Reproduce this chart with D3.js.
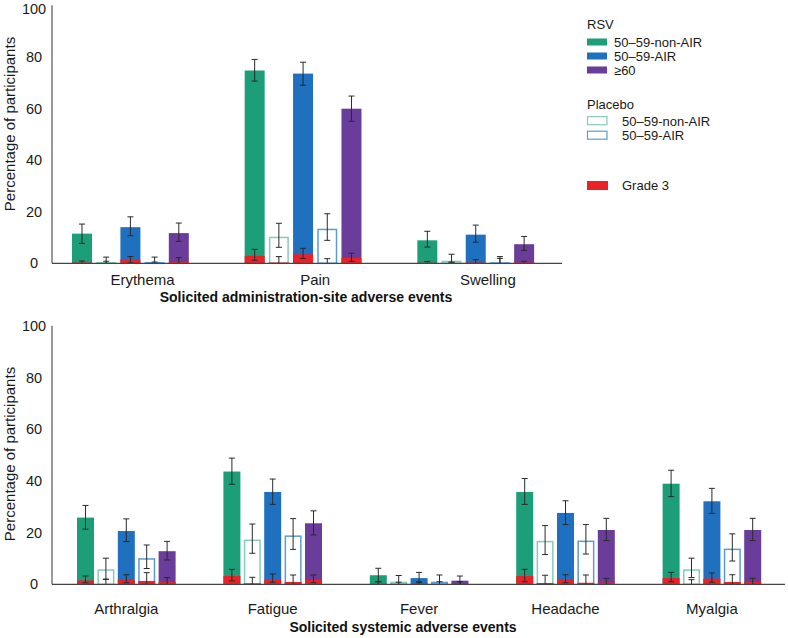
<!DOCTYPE html>
<html>
<head>
<meta charset="utf-8">
<script src="https://cdn.jsdelivr.net/npm/d3@7"></script>
<style>
  html, body { margin: 0; padding: 0; background: #fff; }
  svg { display: block; font-family: "Liberation Sans", Arial, sans-serif; }
</style>
</head>
<body>
<svg id="chart" width="788" height="638"></svg>
<script>
// ---------------- DATA ----------------
const yTicks = [0, 20, 40, 60, 80, 100];
const yLabel = "Percentage of participants";

const siteCategories = ["Erythema", "Pain", "Swelling"];
const siteTitle = "Solicited administration-site adverse events";
// each entry: [value, lower CI, upper CI]
const siteRsvNonAir      = [[11.5, 7.7, 15.2], [74.7, 70.6, 79.0], [8.9, 6.3, 12.4]];
const siteRsvNonAirG3    = [[0.3, 0, 0.9], [2.9, 1.2, 5.4], [0.2, 0, 0.7]];
const sitePboNonAir      = [[0.5, 0, 2.4], [10.3, 6.2, 15.5], [1.0, 0.2, 3.5]];
const sitePboNonAirG3    = [[0, 0, 0.8], [0.3, 0, 2.6], [0, 0, 0.5]];
const siteRsvAir         = [[14.0, 10.7, 18.0], [73.5, 69.0, 77.9], [11.1, 8.2, 14.8]];
const siteRsvAirG3       = [[1.4, 0.2, 2.6], [3.5, 1.9, 5.8], [0.3, 0, 1.4]];
const sitePboAir         = [[0.5, 0, 2.4], [13.4, 8.9, 19.2], [0.4, 0, 2.6]];
const sitePboAirG3       = [[0, 0, 0.5], [0, 0, 1.8], [0, 0, 1.9]];
const siteRsv60          = [[11.7, 8.5, 15.6], [59.9, 55.0, 64.8], [7.4, 5.0, 10.4]];
const siteRsv60G3        = [[0.5, 0, 2.2], [2.1, 0.8, 3.9], [0.3, 0, 0.8]];

const sysCategories = ["Arthralgia", "Fatigue", "Fever", "Headache", "Myalgia"];
const sysTitle = "Solicited systemic adverse events";
const sysRsvNonAir   = [[25.8, 21.3, 30.5], [43.6, 38.7, 48.8], [3.5, 1.0, 6.2], [35.7, 30.9, 40.9], [38.9, 33.9, 44.1]];
const sysRsvNonAirG3 = [[1.5, 0.6, 3.2], [3.2, 1.3, 5.8], [0.2, 0, 1.0], [3.2, 1.0, 5.8], [2.4, 1.0, 4.6]];
const sysPboNonAir   = [[5.8, 1.9, 10.1], [17.3, 12.0, 23.3], [1.0, 0, 3.4], [16.8, 11.5, 22.7], [5.8, 2.6, 10.1]];
const sysPboNonAirG3 = [[0, 0, 2.0], [0.4, 0, 2.7], [0.2, 0, 0.8], [0.5, 0, 3.5], [0, 0, 1.8]];
const sysRsvAir      = [[20.6, 16.5, 25.3], [35.7, 30.9, 40.7], [2.4, 0.6, 4.6], [27.6, 23.1, 32.3], [32.1, 27.4, 37.1]];
const sysRsvAirG3    = [[1.7, 0.6, 3.7], [1.8, 0.8, 4.0], [0.3, 0, 1.0], [1.8, 0.6, 3.7], [2.2, 0.8, 4.4]];
const sysPboAir      = [[10.1, 6.1, 15.2], [18.9, 13.5, 25.4], [1.0, 0, 3.6], [16.9, 11.7, 23.1], [13.8, 9.0, 19.5]];
const sysPboAirG3    = [[1.3, 0, 4.5], [0.9, 0, 3.6], [0.2, 0, 1.0], [0.6, 0, 3.6], [0.9, 0, 3.7]];
const sysRsv60       = [[12.8, 9.4, 16.6], [23.6, 19.1, 28.4], [1.4, 0, 3.2], [21.0, 16.9, 25.5], [21.0, 16.9, 25.5]];
const sysRsv60G3     = [[0.9, 0, 2.6], [1.7, 0.6, 3.6], [0.3, 0, 1.0], [0.7, 0, 2.3], [0.9, 0, 2.3]];

const seriesKeys   = ["rsvNonAir", "pboNonAir", "rsvAir", "pboAir", "rsv60"];
const legendRsv    = ["50–59-non-AIR", "50–59-AIR", "≥60"];
const legendPbo    = ["50–59-non-AIR", "50–59-AIR"];
const legendGrade3 = "Grade 3";

// ---------------- STYLE ----------------
const colors = {
  rsvNonAir: "#1c9e78", rsvAir: "#1f70be", rsv60: "#6a3d9a",
  pboNonAir: "#86cbbb", pboAir: "#5b9bd2", grade3: "#ea2228"
};
const isPlacebo = k => k.startsWith("pbo");

const svg = d3.select("#chart");

function panel(opts) {
  const { cats, series, yRange, xRange, slots, slotRange, slotPad, axisEnd, labelY, title, titleX, titleY, yTitleY, topLabelShift } = opts;
  const y = d3.scaleLinear().domain([0, 100]).range(yRange);
  const x0 = d3.scaleBand().domain(cats).range(xRange).paddingInner(0).paddingOuter(0);
  const x1 = d3.scaleBand().domain(slots).range(slotRange).paddingInner(slotPad).paddingOuter(0);
  const g = svg.append("g");

  // bars
  cats.forEach((c, ci) => {
    seriesKeys.forEach(k => {
      const any = series[k][ci], g3 = series[k + "G3"][ci];
      const bx = x0(c) + x1(k), bw = x1.bandwidth();
      if (isPlacebo(k)) {
        g.append("rect").attr("x", bx + 0.75).attr("width", bw - 1.5)
          .attr("y", y(any[0]) + 0.75).attr("height", Math.max(0, y(0) - y(any[0]) - 0.75))
          .attr("fill", "#fff").attr("stroke", colors[k]).attr("stroke-width", 1.5);
      } else {
        g.append("rect").attr("x", bx).attr("width", bw)
          .attr("y", y(any[0])).attr("height", y(0) - y(any[0]))
          .attr("fill", colors[k]);
      }
      if (g3[0] > 0) {
        g.append("rect").attr("x", bx).attr("width", bw)
          .attr("y", y(g3[0])).attr("height", y(0) - y(g3[0]))
          .attr("fill", colors.grade3);
      }
      // error bars
      const cx = bx + bw / 2;
      [any, g3].forEach(v => {
        if (v[2] <= 0) return;
        g.append("line").attr("x1", cx).attr("x2", cx).attr("y1", y(v[1])).attr("y2", y(v[2]))
          .attr("stroke", "#2a2a2a").attr("stroke-width", 1);
        [v[1], v[2]].forEach(val => {
          if (val <= 0) return;
          g.append("line").attr("x1", cx - 3).attr("x2", cx + 3).attr("y1", y(val)).attr("y2", y(val))
            .attr("stroke", "#2a2a2a").attr("stroke-width", 1);
        });
      });
    });
  });

  // y axis
  const ya = g.append("g").attr("transform", `translate(52,0)`)
    .call(d3.axisLeft(y).tickValues(yTicks).tickSize(0).tickPadding(0));
  ya.select(".domain").remove();
  ya.selectAll(".tick text").attr("x", -18).attr("text-anchor", "middle")
    .attr("font-size", 14.5).attr("font-family", "Liberation Sans, Arial, sans-serif").attr("fill", "#1a1a1a");
  if (topLabelShift) {
    ya.selectAll(".tick").filter(d => d === 100).select("text").attr("y", topLabelShift);
  }
  g.append("line").attr("x1", 52).attr("x2", 52).attr("y1", y(0)).attr("y2", y(100))
    .attr("stroke", "#777").attr("stroke-width", 1.5);

  // x axis
  const labelOffset = (slotRange[0] + slotRange[1]) / 2 - x0.bandwidth() / 2;
  const xa = g.append("g").attr("transform", `translate(0,${y(0)})`)
    .call(d3.axisBottom(x0).tickSize(0).tickPadding(0));
  xa.select(".domain").remove();
  xa.selectAll(".tick text").attr("x", labelOffset).attr("y", labelY).attr("dy", 0)
    .attr("font-size", 15).attr("font-family", "Liberation Sans, Arial, sans-serif").attr("fill", "#1a1a1a");
  g.append("line").attr("x1", 52).attr("x2", axisEnd).attr("y1", y(0)).attr("y2", y(0))
    .attr("stroke", "#444").attr("stroke-width", 1.2);

  // titles
  g.append("text").attr("x", titleX).attr("y", titleY).attr("text-anchor", "middle")
    .attr("font-size", 14).attr("font-weight", "bold").attr("fill", "#111").text(title);
  g.append("text").attr("transform", `translate(15,${yTitleY}) rotate(-90)`).attr("text-anchor", "middle")
    .attr("font-size", 15).attr("fill", "#1a1a1a").text(yLabel);
}

panel({
  cats: siteCategories,
  series: { rsvNonAir: siteRsvNonAir, rsvNonAirG3: siteRsvNonAirG3, pboNonAir: sitePboNonAir, pboNonAirG3: sitePboNonAirG3,
            rsvAir: siteRsvAir, rsvAirG3: siteRsvAirG3, pboAir: sitePboAir, pboAirG3: sitePboAirG3, rsv60: siteRsv60, rsv60G3: siteRsv60G3 },
  yRange: [263.3, 5.2], xRange: [44, 562], slots: [...seriesKeys, "empty"], slotRange: [28, 169], slotPad: 0.174,
  axisEnd: 562, labelY: 21.5, title: siteTitle, titleX: 306, titleY: 302, yTitleY: 124, topLabelShift: 3.6
});

panel({
  cats: sysCategories,
  series: { rsvNonAir: sysRsvNonAir, rsvNonAirG3: sysRsvNonAirG3, pboNonAir: sysPboNonAir, pboNonAirG3: sysPboNonAirG3,
            rsvAir: sysRsvAir, rsvAirG3: sysRsvAirG3, pboAir: sysPboAir, pboAirG3: sysPboAirG3, rsv60: sysRsv60, rsv60G3: sysRsv60G3 },
  yRange: [584.3, 325.7], xRange: [53, 785], slots: seriesKeys, slotRange: [24, 122.6], slotPad: 0.167,
  axisEnd: 785, labelY: 29.5, title: sysTitle, titleX: 403, titleY: 632, yTitleY: 454, topLabelShift: 0
});

// ---------------- LEGEND ----------------
const lg = svg.append("g").attr("font-size", 13).attr("fill", "#1a1a1a");
lg.append("text").attr("x", 587).attr("y", 29.3).text("RSV");
const rsvKeys = ["rsvNonAir", "rsvAir", "rsv60"];
legendRsv.forEach((t, i) => {
  const cy = 42 + i * 14;
  lg.append("rect").attr("x", 587).attr("y", cy - 3.5).attr("width", 20).attr("height", 7).attr("fill", colors[rsvKeys[i]]);
  lg.append("text").attr("x", 614).attr("y", cy + 4.5).text(t);
});
lg.append("text").attr("x", 587).attr("y", 108.5).text("Placebo");
const pboKeys = ["pboNonAir", "pboAir"];
legendPbo.forEach((t, i) => {
  const cy = 120.7 + i * 14.5;
  lg.append("rect").attr("x", 587.5).attr("y", cy - 4).attr("width", 19.5).attr("height", 8)
    .attr("fill", "#fff").attr("stroke", colors[pboKeys[i]]).attr("stroke-width", 1.2);
  lg.append("text").attr("x", 622).attr("y", cy + 4.8).text(t);
});
lg.append("rect").attr("x", 587).attr("y", 181).attr("width", 21).attr("height", 9).attr("fill", colors.grade3);
lg.append("text").attr("x", 622).attr("y", 190).text(legendGrade3);
</script>
</body>
</html>
